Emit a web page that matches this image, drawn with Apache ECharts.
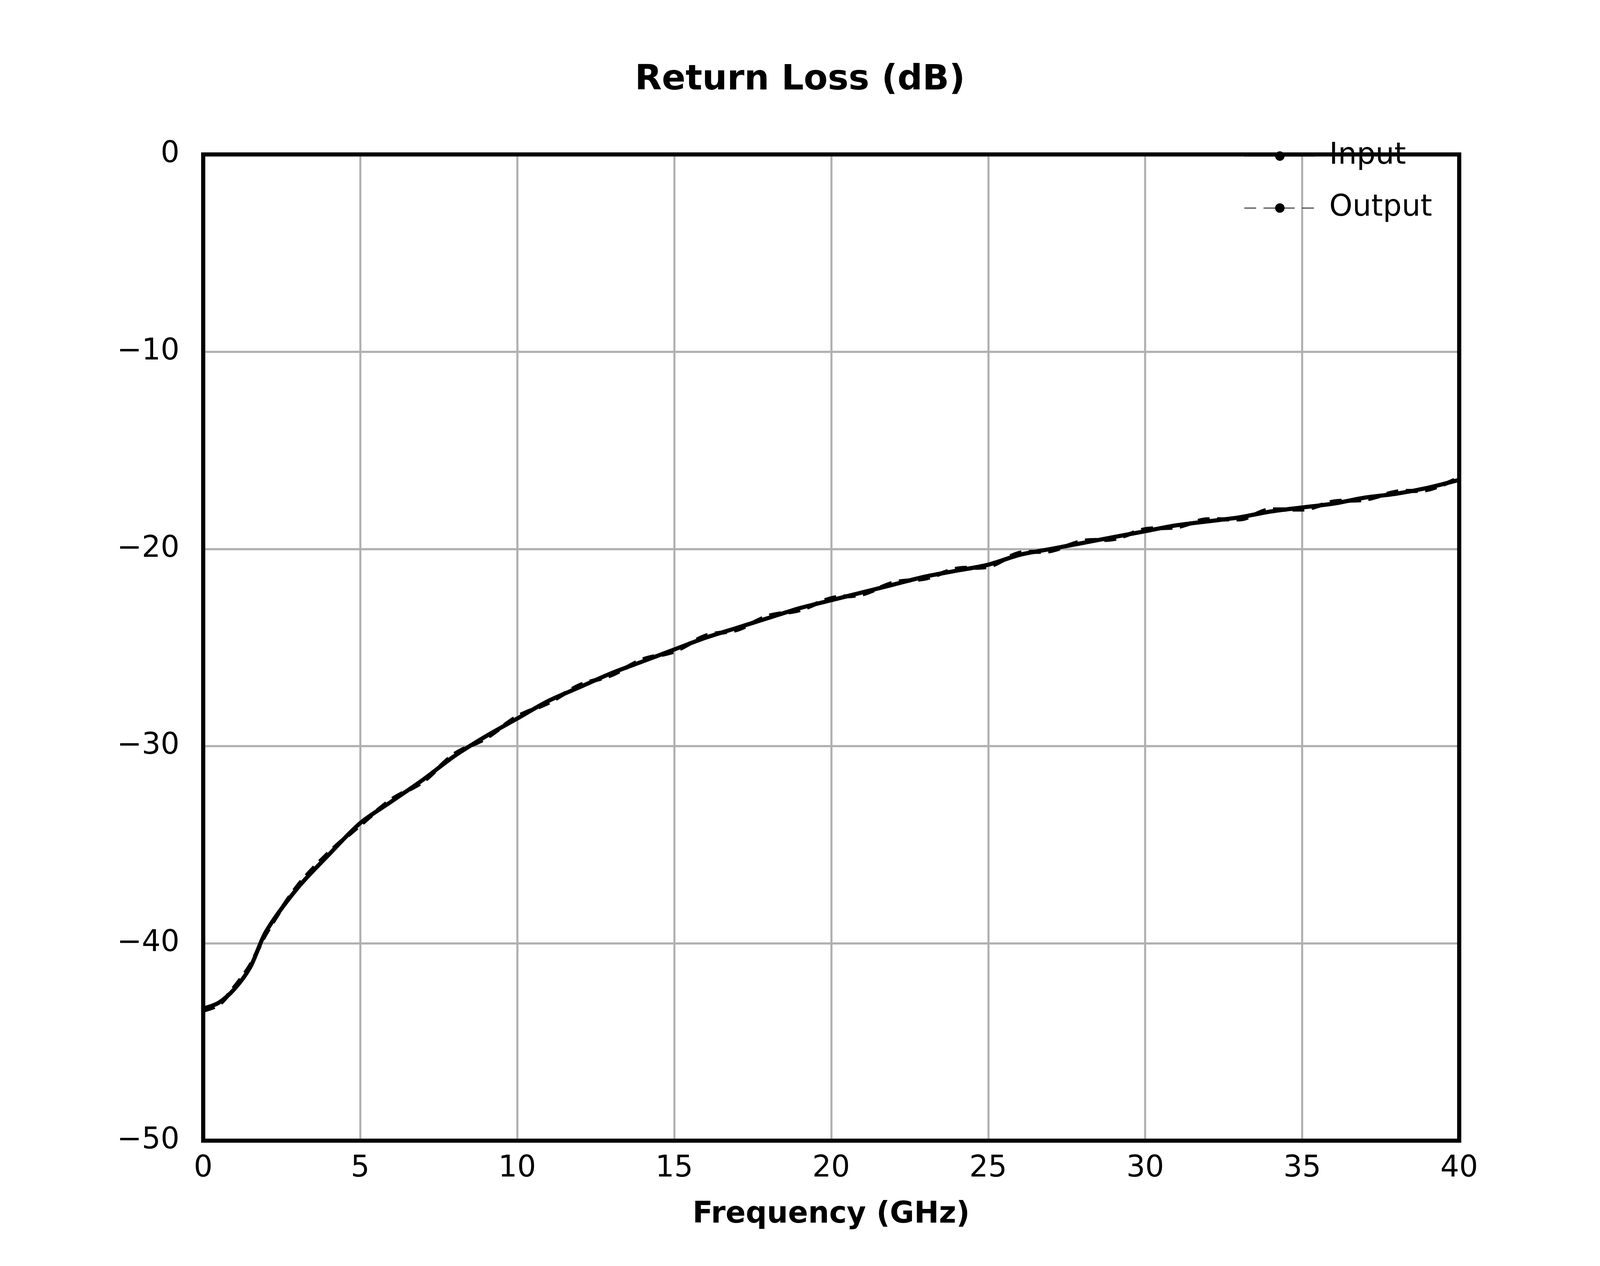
<!DOCTYPE html>
<html>
<head>
<meta charset="utf-8">
<script src="https://cdn.jsdelivr.net/npm/echarts@6/dist/echarts.min.js"></script>
<style>html,body{margin:0;padding:0;background:#fff;overflow:hidden}#chart{width:100vw;height:100vh}</style>
</head>
<body>
<div id="chart"></div>
<script>
var freq = [0, 0.5, 1, 1.5, 2, 3, 4, 5, 6, 7, 8, 9, 10, 11, 12, 13, 14, 15, 16, 17, 18, 19, 20,
            21, 22, 23, 24, 25, 26, 27, 28, 29, 30, 31, 32, 33, 34, 35, 36, 37, 38, 39, 40];
var inputLoss = [-43.3, -43.0, -42.3, -41.2, -39.4, -37.2, -35.5, -33.9, -32.8, -31.7, -30.5, -29.5, -28.6,
                 -27.7, -27.0, -26.3, -25.7, -25.1, -24.5, -24.0, -23.5, -23.0, -22.6,
                 -22.2, -21.8, -21.4, -21.1, -20.8, -20.3, -20.0, -19.7, -19.4, -19.1,
                 -18.8, -18.6, -18.4, -18.1, -17.9, -17.7, -17.4, -17.2, -16.9, -16.5];
var outputLoss = [-43.4, -43.1, -42.2, -41.1, -39.5, -37.1, -35.4, -34.0, -32.7, -31.8, -30.4, -29.6, -28.5,
                  -27.8, -26.9, -26.4, -25.6, -25.2, -24.4, -24.1, -23.4, -23.1, -22.5,
                  -22.3, -21.7, -21.5, -21.0, -20.9, -20.2, -20.1, -19.6, -19.5, -19.0,
                  -18.9, -18.5, -18.5, -18.0, -18.0, -17.6, -17.5, -17.1, -17.0, -16.4];

function pairs(xs, ys) { return xs.map(function (x, i) { return [x, ys[i]]; }); }
function minus(v) { return String(v).replace('-', '\u2212'); }

var dom = document.getElementById('chart');
var chart = echarts.init(dom);
var s = dom.clientWidth / 5400;   // scale everything to the real viewport
var font = 'DejaVu Sans';
chart.setOption({
    backgroundColor: '#fff',
    animation: false,
    title: {
        text: 'Return Loss (dB)', left: 'center', top: 205 * s,
        textStyle: { fontFamily: font, fontSize: 118 * s, fontWeight: 'bold', color: '#000' }
    },
    legend: {
        right: 560 * s, top: 470 * s, orient: 'vertical', itemWidth: 240 * s, itemHeight: 40 * s, itemGap: 75 * s,
        textStyle: { fontFamily: font, fontSize: 100 * s, color: '#000', padding: [0, 0, 0, 40 * s] },
        data: ['Input', 'Output']
    },
    grid: {
        left: '12.7%', right: '8.8%', top: '12.2%', bottom: '9.9%',
        show: true, borderColor: '#000', borderWidth: 14 * s, z: 10
    },
    xAxis: {
        type: 'value', min: 0, max: 40, interval: 5,
        name: 'Frequency (GHz)', nameLocation: 'middle', nameGap: 200 * s,
        nameTextStyle: { fontFamily: font, fontSize: 100 * s, fontWeight: 'bold', color: '#000' },
        axisLine: { show: false }, axisTick: { show: false },
        axisLabel: { fontFamily: font, fontSize: 100 * s, color: '#000', margin: 45 * s },
        splitLine: { lineStyle: { color: '#b0b0b0', width: 7 * s } }
    },
    yAxis: {
        type: 'value', min: -50, max: 0, interval: 10,
        axisLine: { show: false }, axisTick: { show: false },
        axisLabel: { fontFamily: font, fontSize: 100 * s, color: '#000', margin: 80 * s, formatter: minus },
        splitLine: { lineStyle: { color: '#b0b0b0', width: 7 * s } }
    },
    series: [
        { name: 'Input', type: 'line', data: pairs(freq, inputLoss), symbol: 'none', smooth: 0.3,
          lineStyle: { color: '#000', width: 14 * s }, itemStyle: { color: '#000' } },
        { name: 'Output', type: 'line', data: pairs(freq, outputLoss), symbol: 'none', smooth: 0.3,
          lineStyle: { color: '#000', width: 14 * s, type: [40 * s, 25 * s] }, itemStyle: { color: '#000' } }
    ]
});
</script>
</body>
</html>
